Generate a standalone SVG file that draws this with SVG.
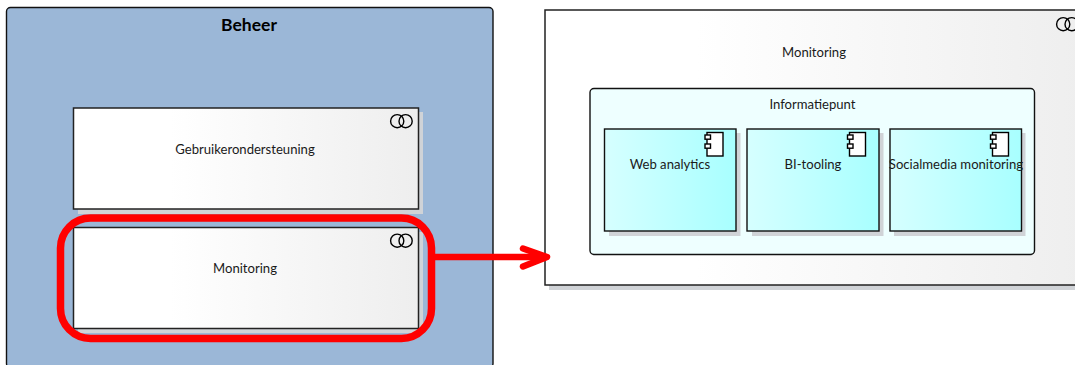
<svg xmlns="http://www.w3.org/2000/svg" width="1075" height="365" viewBox="0 0 1075 365">
<style>
text{font-family:Lato,"Liberation Sans",sans-serif;font-size:13.1px;fill:#1a1a1a;text-anchor:middle}
.title{font-size:17.5px;font-weight:700;fill:#000}
.sh{fill:#d0d3d7}
.svc{fill:url(#w);stroke:#222;stroke-width:1.5}
.comp{fill:url(#c);stroke:#111;stroke-width:1.4}
.ic{fill:none;stroke:#000;stroke-width:1.4}
.ics{fill:#fff;stroke:#000;stroke-width:1.4}
.red{fill:none;stroke:#f00;stroke-linecap:round;stroke-linejoin:round}
</style>
<defs>
<linearGradient id="w" x1="0" y1="0" x2="1" y2="0"><stop offset=".28" stop-color="#fff"/><stop offset="1" stop-color="#eeeeee"/></linearGradient>
<linearGradient id="c" x1="0" y1="0" x2="1" y2="0"><stop offset="0" stop-color="#d6ffff"/><stop offset="1" stop-color="#a8ffff"/></linearGradient>
<g id="rel"><circle class="ic" cx="7.2" cy="7.2" r="6.6"/><circle class="ic" cx="15.6" cy="7.2" r="6.6"/></g>
<g id="ci"><rect class="ics" x="2.5" y="0.5" width="16" height="23.5"/><rect class="ics" x="0.5" y="3" width="5.5" height="4.2"/><rect class="ics" x="0.5" y="12" width="5.5" height="4.2"/></g>
</defs>
<rect width="1075" height="365" fill="#fff"/>
<g id="beheer">
<rect x="6.5" y="7.5" width="486.5" height="360" rx="4" fill="#9bb7d7" stroke="#111" stroke-width="1.4"/>
<text class="title" x="249" y="31">Beheer</text>
</g>
<g id="gebruikerondersteuning">
<rect class="sh" x="78" y="112" width="345" height="102"/>
<rect class="svc" x="73.5" y="108" width="345" height="101"/>
<use href="#rel" x="390" y="114"/>
<text x="245" y="154">Gebruikerondersteuning</text>
</g>
<g id="monitoring-left">
<rect class="sh" x="78" y="232" width="345" height="101"/>
<rect class="svc" x="73.5" y="227.5" width="345" height="101"/>
<use href="#rel" x="390" y="233.5"/>
<text x="245" y="273">Monitoring</text>
</g>
<g id="monitoring-right">
<rect class="sh" x="549" y="14" width="540" height="276"/>
<rect class="svc" x="545" y="10" width="540" height="275"/>
<use href="#rel" x="1056" y="17"/>
<text x="814" y="57">Monitoring</text>
</g>
<g id="informatiepunt">
<rect x="590" y="88.5" width="444.5" height="166" rx="4" fill="#eeffff" stroke="#111" stroke-width="1.4"/>
<text x="812.5" y="109">Informatiepunt</text>
</g>
<g id="web-analytics">
<rect class="sh" x="609" y="133" width="131.5" height="103"/>
<rect class="comp" x="604.5" y="129" width="131.5" height="102"/>
<use href="#ci" x="704.5" y="132"/>
<text x="670" y="169">Web analytics</text>
</g>
<g id="bi-tooling">
<rect class="sh" x="752" y="133" width="131.5" height="103"/>
<rect class="comp" x="747" y="129" width="132" height="102"/>
<use href="#ci" x="847" y="132"/>
<text x="813" y="169">BI-tooling</text>
</g>
<g id="socialmedia-monitoring">
<rect class="sh" x="894" y="133" width="131.5" height="103"/>
<rect class="comp" x="890" y="129" width="131.5" height="102"/>
<use href="#ci" x="990" y="132"/>
<text x="956" y="169">Socialmedia monitoring</text>
</g>
<g id="connectors">
<rect class="red" x="60.5" y="218" width="371" height="120.5" rx="30" stroke-width="7.5"/>
<path class="red" d="M435 257H546" stroke-width="6.5"/>
<path class="red" d="M523 248.5L547 257L523 266.5" stroke-width="6.5"/>
</g>
</svg>
